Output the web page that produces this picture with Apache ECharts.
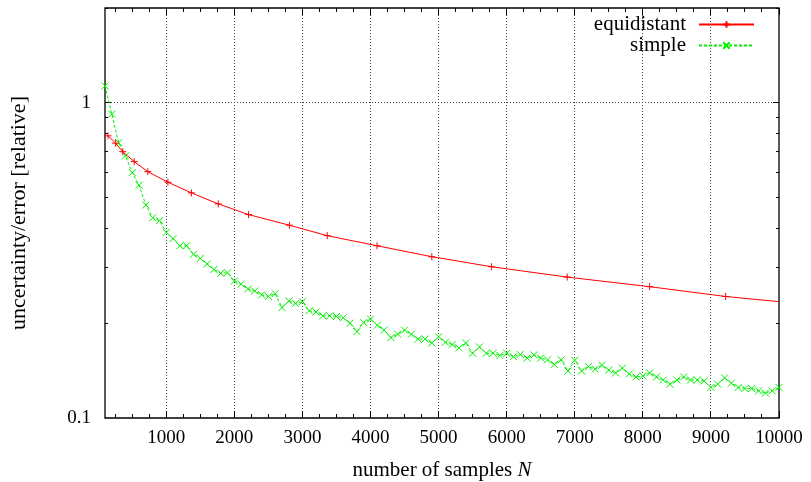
<!DOCTYPE html>
<html>
<head>
<meta charset="utf-8">
<script src="https://cdn.jsdelivr.net/npm/echarts@6/dist/echarts.min.js"></script>
<style>
html,body{margin:0;padding:0;background:#fff;}
#chart{width:811px;height:482px;}
</style>
</head>
<body>
<div id="chart"></div>
<script>
// ---- data ----
const equidistantN = [144, 256, 361, 529, 729, 1024, 1369, 1764, 2209, 2809, 3364, 4096, 4900, 5776, 6889, 8100, 9216, 10000];
const equidistantErr = [0.786, 0.745, 0.700, 0.651, 0.605, 0.560, 0.518, 0.478, 0.442, 0.409, 0.379, 0.352, 0.325, 0.302, 0.280, 0.261, 0.243, 0.234];

const simpleN = [100, 200, 300, 400, 500, 600, 700, 800, 900, 1000,
  1100, 1200, 1300, 1400, 1500, 1600, 1700, 1800, 1900, 2000,
  2100, 2200, 2300, 2400, 2500, 2600, 2700, 2800, 2900, 3000,
  3100, 3200, 3300, 3400, 3500, 3600, 3700, 3800, 3900, 4000,
  4100, 4200, 4300, 4400, 4500, 4600, 4700, 4800, 4900, 5000,
  5100, 5200, 5300, 5400, 5500, 5600, 5700, 5800, 5900, 6000,
  6100, 6200, 6300, 6400, 6500, 6600, 6700, 6800, 6900, 7000,
  7100, 7200, 7300, 7400, 7500, 7600, 7700, 7800, 7900, 8000,
  8100, 8200, 8300, 8400, 8500, 8600, 8700, 8800, 8900, 9000,
  9100, 9200, 9300, 9400, 9500, 9600, 9700, 9800, 9900, 10000];
const simpleErr = [1.132, 0.921, 0.748, 0.679, 0.601, 0.548, 0.474, 0.432, 0.423, 0.388,
  0.371, 0.352, 0.352, 0.331, 0.321, 0.308, 0.296, 0.288, 0.289, 0.272,
  0.266, 0.257, 0.253, 0.246, 0.243, 0.248, 0.224, 0.235, 0.231, 0.234,
  0.219, 0.217, 0.211, 0.211, 0.210, 0.208, 0.200, 0.188, 0.201, 0.206,
  0.197, 0.190, 0.180, 0.1845, 0.190, 0.1845, 0.178, 0.178, 0.173, 0.181,
  0.174, 0.171, 0.167, 0.173, 0.1605, 0.168, 0.1605, 0.1605, 0.158, 0.1605,
  0.1565, 0.159, 0.155, 0.1585, 0.155, 0.153, 0.148, 0.153, 0.141, 0.1525,
  0.141, 0.1455, 0.143, 0.147, 0.142, 0.139, 0.144, 0.138, 0.135, 0.136,
  0.139, 0.135, 0.132, 0.128, 0.132, 0.135, 0.132, 0.132, 0.131, 0.125,
  0.128, 0.134, 0.129, 0.125, 0.124, 0.124, 0.122, 0.120, 0.122, 0.125];

const xTickLabels = [1000, 2000, 3000, 4000, 5000, 6000, 7000, 8000, 9000, 10000];
const xGridValues = [1000, 2000, 3000, 4000, 5000, 6000, 7000, 8000, 9000];
const xMinorTicks = [250, 500, 750, 1250, 1500, 1750, 2250, 2500, 2750, 3250, 3500, 3750,
  4250, 4500, 4750, 5250, 5500, 5750, 6250, 6500, 6750, 7250, 7500, 7750,
  8250, 8500, 8750, 9250, 9500, 9750];
const yGridValues = [1];
const yMinorTicks = [0.2, 0.3, 0.4, 0.5, 0.6, 0.7, 0.8, 0.9, 2];

const X_MIN = 100, X_MAX = 10000, Y_MIN = 0.1, Y_MAX = 2;
const FONT = '"Liberation Serif", "Times New Roman", serif';

// ---- helpers ----
function crisp(v) { return Math.round(v - 0.5) + 0.5; }

function xLinesRender(len, dashed) {
  return function (params, api) {
    const x = api.value(0);
    const b = api.coord([x, Y_MIN]);
    const t = api.coord([x, Y_MAX]);
    const cx = crisp(b[0]);
    if (dashed) {
      return { type: 'line', shape: { x1: cx, y1: b[1], x2: cx, y2: t[1] },
        style: { stroke: '#444', lineWidth: 1, lineDash: [1, 2] } };
    }
    return { type: 'group', children: [
      { type: 'line', shape: { x1: cx, y1: b[1], x2: cx, y2: b[1] - len }, style: { stroke: '#000', lineWidth: 1 } },
      { type: 'line', shape: { x1: cx, y1: t[1], x2: cx, y2: t[1] + len }, style: { stroke: '#000', lineWidth: 1 } }
    ] };
  };
}
function yLinesRender(len, dashed) {
  return function (params, api) {
    const y = api.value(1);
    const l = api.coord([X_MIN, y]);
    const r = api.coord([X_MAX, y]);
    const cy = crisp(l[1]);
    if (dashed) {
      return { type: 'line', shape: { x1: l[0], y1: cy, x2: r[0], y2: cy },
        style: { stroke: '#444', lineWidth: 1, lineDash: [1, 2] } };
    }
    return { type: 'group', children: [
      { type: 'line', shape: { x1: l[0], y1: cy, x2: l[0] + len, y2: cy }, style: { stroke: '#000', lineWidth: 1 } },
      { type: 'line', shape: { x1: r[0], y1: cy, x2: r[0] - len, y2: cy }, style: { stroke: '#000', lineWidth: 1 } }
    ] };
  };
}

const PLUS = 'path://M5,0L5,10M0,5L10,5';
const CROSS = 'path://M0,0L10,10M10,0L0,10';

const equiData = equidistantN.map(function (n, i) {
  const item = { value: [n, equidistantErr[i]] };
  if (n >= X_MAX) item.symbol = 'none';
  return item;
});
const simpleData = simpleN.map(function (n, i) { return [n, simpleErr[i]]; });

const chart = echarts.init(document.getElementById('chart'), null, { renderer: 'canvas' });
chart.setOption({
  animation: false,
  backgroundColor: '#fff',
  grid: { left: 105, right: 32, top: 8, bottom: 64, containLabel: false, outerBoundsMode: 'none',
    show: true, borderColor: '#000', borderWidth: 1.3, backgroundColor: 'transparent' },
  legend: [
    { data: ['equidistant'], orient: 'vertical', right: 56, top: 14, align: 'right', padding: 0,
      itemWidth: 55, itemHeight: 8, textStyle: { fontFamily: FONT, fontSize: 21, color: '#000', padding: [0, 8, 0, 0] } },
    { data: ['simple'], orient: 'vertical', right: 56, top: 35, align: 'right', padding: 0,
      itemWidth: 55, itemHeight: 8, textStyle: { fontFamily: FONT, fontSize: 21, color: '#000', padding: [0, 8, 0, 0] } }
  ],
  xAxis: {
    type: 'value', min: X_MIN, max: X_MAX,
    name: '{t|number of samples }{i|N}', nameLocation: 'middle', nameGap: 42,
    nameTextStyle: { rich: { t: { fontFamily: FONT, fontSize: 21, color: '#000' }, i: { fontFamily: FONT, fontSize: 21, fontStyle: 'italic', color: '#000' } } },
    axisLine: { show: false },
    axisTick: { show: false },
    splitLine: { show: false },
    axisLabel: { customValues: xTickLabels, formatter: function (v) { return String(v); }, fontFamily: FONT, fontSize: 19, color: '#000', margin: 11 }
  },
  yAxis: {
    type: 'log', logBase: 10, min: Y_MIN, max: Y_MAX,
    name: 'uncertainty/error [relative]', nameLocation: 'middle', nameGap: 75,
    nameTextStyle: { fontFamily: FONT, fontSize: 22, color: '#000' },
    axisLine: { show: false },
    axisTick: { show: false },
    splitLine: { show: false },
    minorTick: { show: false },
    axisLabel: { showMaxLabel: false, fontFamily: FONT, fontSize: 19, color: '#000', margin: 14 }
  },
  series: [
    { type: 'custom', name: 'xgrid', silent: true, z: 1, data: xGridValues.map(function (v) { return [v, Y_MIN]; }), renderItem: xLinesRender(0, true) },
    { type: 'custom', name: 'ygrid', silent: true, z: 1, data: yGridValues.map(function (v) { return [X_MIN, v]; }), renderItem: yLinesRender(0, true) },
    { type: 'custom', name: 'xminor', silent: true, z: 3, data: xMinorTicks.map(function (v) { return [v, Y_MIN]; }), renderItem: xLinesRender(4, false) },
    { type: 'custom', name: 'xmajor', silent: true, z: 3, data: xTickLabels.map(function (v) { return [v, Y_MIN]; }), renderItem: xLinesRender(7, false) },
    { type: 'custom', name: 'yminor', silent: true, z: 3, data: yMinorTicks.map(function (v) { return [X_MIN, v]; }), renderItem: yLinesRender(3, false) },
    { type: 'custom', name: 'ymajor', silent: true, z: 3, data: yGridValues.map(function (v) { return [X_MIN, v]; }), renderItem: yLinesRender(6, false) },
    {
      type: 'line', name: 'equidistant', z: 5, data: equiData,
      symbol: PLUS, symbolSize: 7,
      lineStyle: { color: '#ff0000', width: 1 },
      itemStyle: { color: '#ff0000', borderColor: '#ff0000', borderWidth: 1 }
    },
    {
      type: 'line', name: 'simple', z: 4, data: simpleData,
      symbol: CROSS, symbolSize: 7,
      lineStyle: { color: '#00f000', width: 1, type: [3, 2] },
      itemStyle: { color: '#00f000', borderColor: '#00f000', borderWidth: 1 }
    }
  ]
});
</script>
</body>
</html>
